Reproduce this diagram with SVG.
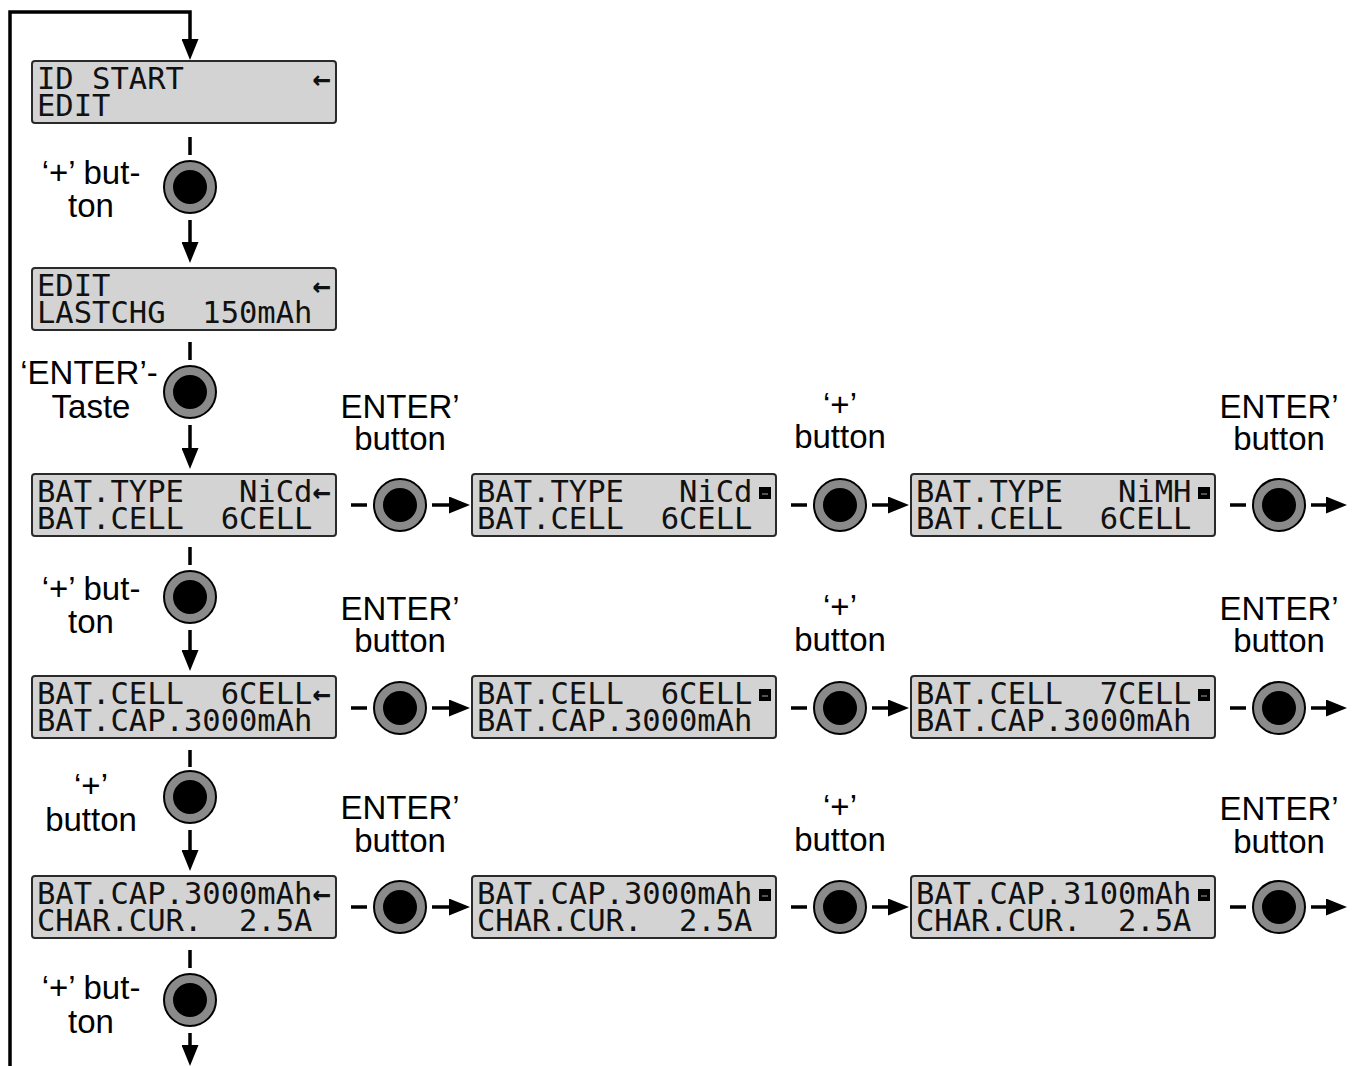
<svg xmlns="http://www.w3.org/2000/svg" width="1353" height="1066" viewBox="0 0 1353 1066" xml:space="preserve">
<style>
.lcd{fill:#d3d3d3;stroke:#2a2a2a;stroke-width:2}
.lt{font-family:"DejaVu Sans Mono","Liberation Mono",monospace;font-size:30.5px;fill:#111;white-space:pre}
.ar{font-weight:bold}
.lbl{font-family:"Liberation Sans",Arial,sans-serif;font-size:33px;fill:#000;text-anchor:middle}
.ring{fill:#8a8a8a;stroke:#000;stroke-width:2}
.core{fill:#000}
.conn{stroke:#000;stroke-width:3.5;fill:none}
.arr{marker-end:url(#ah)}
</style>
<defs>
<marker id="ah" markerUnits="userSpaceOnUse" markerWidth="21" markerHeight="17" refX="2" refY="8.5" orient="auto"><path d="M0,0 L21,8.5 L0,17 z" fill="#000"/></marker>
<g id="btn"><circle r="26" class="ring"/><circle r="17" class="core"/></g>
<g id="cur"><rect x="0" y="0" width="12" height="12" fill="#000"/><circle cx="4" cy="7" r="0.8" fill="#bbb"/><circle cx="6" cy="7" r="0.8" fill="#bbb"/><circle cx="8" cy="7" r="0.8" fill="#bbb"/></g>
</defs>

<g id="connectors">
<path class="conn arr" d="M10,1066 V12 H190 V41"/>
<path class="conn" d="M190,137 V155 M190,342 V360 M190,547 V565 M190,750 V767 M190,950 V968"/>
<path class="conn arr" d="M190,220 V244"/>
<path class="conn arr" d="M190,425 V450"/>
<path class="conn arr" d="M190,630 V652"/>
<path class="conn arr" d="M190,830 V852"/>
<path class="conn arr" d="M190,1033 V1047"/>
<path class="conn" d="M351,505 H367 M791,505 H807 M1230,505 H1246 M351,708 H367 M791,708 H807 M1230,708 H1246 M351,907 H367 M791,907 H807 M1230,907 H1246"/>
<path class="conn arr" d="M432,505 H451"/>
<path class="conn arr" d="M872,505 H890"/>
<path class="conn arr" d="M1311,505 H1328"/>
<path class="conn arr" d="M432,708 H451"/>
<path class="conn arr" d="M872,708 H890"/>
<path class="conn arr" d="M1311,708 H1328"/>
<path class="conn arr" d="M432,907 H451"/>
<path class="conn arr" d="M872,907 H890"/>
<path class="conn arr" d="M1311,907 H1328"/>
</g>

<g id="lcd-id-start">
<rect class="lcd" x="32" y="61" width="304" height="62" rx="3"/>
<text class="lt"><tspan x="37" y="89">ID START       <tspan class="ar">←</tspan></tspan><tspan x="37" y="116">EDIT</tspan></text>
</g>
<g id="lcd-edit">
<rect class="lcd" x="32" y="268" width="304" height="62" rx="3"/>
<text class="lt"><tspan x="37" y="296">EDIT           <tspan class="ar">←</tspan></tspan><tspan x="37" y="323">LASTCHG  150mAh</tspan></text>
</g>
<g id="lcd-battype">
<rect class="lcd" x="32" y="474" width="304" height="62" rx="3"/>
<text class="lt"><tspan x="37" y="502">BAT.TYPE   NiCd<tspan class="ar">←</tspan></tspan><tspan x="37" y="529">BAT.CELL  6CELL</tspan></text>
</g>
<g id="lcd-batcell">
<rect class="lcd" x="32" y="676" width="304" height="62" rx="3"/>
<text class="lt"><tspan x="37" y="704">BAT.CELL  6CELL<tspan class="ar">←</tspan></tspan><tspan x="37" y="731">BAT.CAP.3000mAh</tspan></text>
</g>
<g id="lcd-batcap">
<rect class="lcd" x="32" y="876" width="304" height="62" rx="3"/>
<text class="lt"><tspan x="37" y="904">BAT.CAP.3000mAh<tspan class="ar">←</tspan></tspan><tspan x="37" y="931">CHAR.CUR.  2.5A</tspan></text>
</g>

<g id="lcd-battype-edit">
<rect class="lcd" x="472" y="474" width="304" height="62" rx="3"/>
<text class="lt"><tspan x="477" y="502">BAT.TYPE   NiCd</tspan><tspan x="477" y="529">BAT.CELL  6CELL</tspan></text>
<use href="#cur" x="759" y="487"/>
</g>
<g id="lcd-battype-nimh">
<rect class="lcd" x="911" y="474" width="304" height="62" rx="3"/>
<text class="lt"><tspan x="916" y="502">BAT.TYPE   NiMH</tspan><tspan x="916" y="529">BAT.CELL  6CELL</tspan></text>
<use href="#cur" x="1198" y="487"/>
</g>
<g id="lcd-batcell-edit">
<rect class="lcd" x="472" y="676" width="304" height="62" rx="3"/>
<text class="lt"><tspan x="477" y="704">BAT.CELL  6CELL</tspan><tspan x="477" y="731">BAT.CAP.3000mAh</tspan></text>
<use href="#cur" x="759" y="689"/>
</g>
<g id="lcd-batcell-7">
<rect class="lcd" x="911" y="676" width="304" height="62" rx="3"/>
<text class="lt"><tspan x="916" y="704">BAT.CELL  7CELL</tspan><tspan x="916" y="731">BAT.CAP.3000mAh</tspan></text>
<use href="#cur" x="1198" y="689"/>
</g>
<g id="lcd-batcap-edit">
<rect class="lcd" x="472" y="876" width="304" height="62" rx="3"/>
<text class="lt"><tspan x="477" y="904">BAT.CAP.3000mAh</tspan><tspan x="477" y="931">CHAR.CUR.  2.5A</tspan></text>
<use href="#cur" x="759" y="889"/>
</g>
<g id="lcd-batcap-3100">
<rect class="lcd" x="911" y="876" width="304" height="62" rx="3"/>
<text class="lt"><tspan x="916" y="904">BAT.CAP.3100mAh</tspan><tspan x="916" y="931">CHAR.CUR.  2.5A</tspan></text>
<use href="#cur" x="1198" y="889"/>
</g>

<g id="btn-c1-1"><use href="#btn" x="190" y="187"/><text class="lbl"><tspan x="91" y="184">‘+’ but-</tspan><tspan x="91" y="217">ton</tspan></text></g>
<g id="btn-c1-2"><use href="#btn" x="190" y="392"/><text class="lbl"><tspan x="89" y="384">‘ENTER’-</tspan><tspan x="91" y="418">Taste</tspan></text></g>
<g id="btn-c1-3"><use href="#btn" x="190" y="597"/><text class="lbl"><tspan x="91" y="600">‘+’ but-</tspan><tspan x="91" y="633">ton</tspan></text></g>
<g id="btn-c1-4"><use href="#btn" x="190" y="797"/><text class="lbl"><tspan x="91" y="797">‘+’</tspan><tspan x="91" y="831">button</tspan></text></g>
<g id="btn-c1-5"><use href="#btn" x="190" y="1000"/><text class="lbl"><tspan x="91" y="999">‘+’ but-</tspan><tspan x="91" y="1033">ton</tspan></text></g>

<g id="btn-r1-1"><use href="#btn" x="400" y="505"/><text class="lbl"><tspan x="400" y="418">ENTER’</tspan><tspan x="400" y="450">button</tspan></text></g>
<g id="btn-r1-2"><use href="#btn" x="840" y="505"/><text class="lbl"><tspan x="840" y="416">‘+’</tspan><tspan x="840" y="448">button</tspan></text></g>
<g id="btn-r1-3"><use href="#btn" x="1279" y="505"/><text class="lbl"><tspan x="1279" y="418">ENTER’</tspan><tspan x="1279" y="450">button</tspan></text></g>
<g id="btn-r2-1"><use href="#btn" x="400" y="708"/><text class="lbl"><tspan x="400" y="620">ENTER’</tspan><tspan x="400" y="652">button</tspan></text></g>
<g id="btn-r2-2"><use href="#btn" x="840" y="708"/><text class="lbl"><tspan x="840" y="618">‘+’</tspan><tspan x="840" y="651">button</tspan></text></g>
<g id="btn-r2-3"><use href="#btn" x="1279" y="708"/><text class="lbl"><tspan x="1279" y="620">ENTER’</tspan><tspan x="1279" y="652">button</tspan></text></g>
<g id="btn-r3-1"><use href="#btn" x="400" y="907"/><text class="lbl"><tspan x="400" y="819">ENTER’</tspan><tspan x="400" y="852">button</tspan></text></g>
<g id="btn-r3-2"><use href="#btn" x="840" y="907"/><text class="lbl"><tspan x="840" y="818">‘+’</tspan><tspan x="840" y="851">button</tspan></text></g>
<g id="btn-r3-3"><use href="#btn" x="1279" y="907"/><text class="lbl"><tspan x="1279" y="820">ENTER’</tspan><tspan x="1279" y="853">button</tspan></text></g>
</svg>
